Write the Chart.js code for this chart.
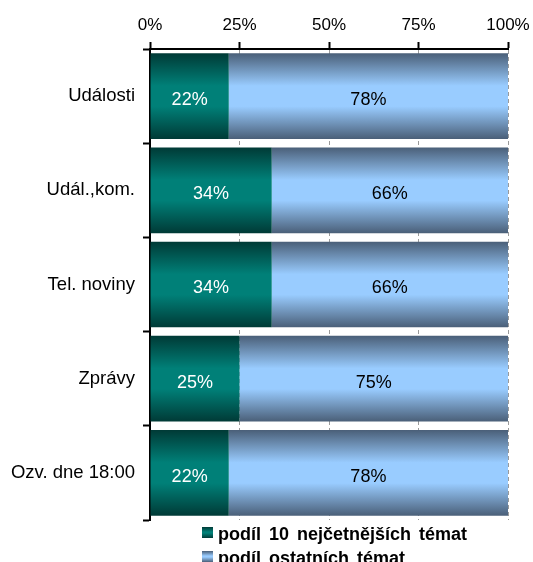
<!DOCTYPE html>
<html>
<head>
<meta charset="utf-8">
<script src="https://cdn.jsdelivr.net/npm/chart.js@4/dist/chart.umd.min.js"></script>
<style>
  html, body { margin: 0; padding: 0; background: #fff; }
  #wrap { position: relative; width: 533px; height: 562px; overflow: hidden; }
  #legend { position: absolute; left: 202px; top: 522px; font-family: "Liberation Sans", Arial, sans-serif; font-weight: bold; font-size: 18px; color: #000; line-height: 24px; word-spacing: 3px; }
  .item { display: flex; align-items: center; white-space: nowrap; }
  .box { width: 11px; height: 11px; margin-right: 5px; margin-top: -3px; }
</style>
</head>
<body>
<div id="wrap">
  <canvas id="c" width="533" height="562"></canvas>
  <div id="legend"></div>
</div>
<script>
const categories = ["Události", "Udál.,kom.", "Tel. noviny", "Zprávy", "Ozv. dne 18:00"];
const seriesNames = ["podíl 10 nejčetnějších témat", "podíl ostatních témat"];
const topShare = [22, 34, 34, 25, 22];
const otherShare = [78, 66, 66, 75, 78];
const tickLabels = ["0%", "25%", "50%", "75%", "100%"];

const FONT = '"Liberation Sans", Arial, sans-serif';
const palettes = [
  { edge: '#003a36', mid: '#008078' },
  { edge: '#4a5f78', mid: '#99ccff' }
];
const BAR_PCT = 0.91;

function barGradient(ctx, pal) {
  const chart = ctx.chart;
  const y = chart.scales && chart.scales.y;
  if (!y || ctx.dataIndex === undefined || !chart.chartArea) return pal.mid;
  const c = y.getPixelForValue(ctx.dataIndex);
  const half = (y.height / categories.length) * BAR_PCT / 2;
  const g = chart.ctx.createLinearGradient(0, c - half, 0, c + half);
  g.addColorStop(0, pal.edge);
  g.addColorStop(0.38, pal.mid);
  g.addColorStop(0.62, pal.mid);
  g.addColorStop(1, pal.edge);
  return g;
}

const labelPlugin = {
  id: 'valueLabels',
  afterDatasetsDraw(chart) {
    const ctx = chart.ctx;
    ctx.save();
    ctx.font = '18px ' + FONT;
    ctx.textAlign = 'center';
    ctx.textBaseline = 'middle';
    chart.data.datasets.forEach((ds, di) => {
      const meta = chart.getDatasetMeta(di);
      meta.data.forEach((el, i) => {
        const cx = (el.x + el.base) / 2;
        ctx.fillStyle = di === 0 ? '#ffffff' : '#000000';
        ctx.fillText(ds.data[i] + '%', cx, el.y + 4);
      });
    });
    ctx.restore();
  }
};

new Chart(document.getElementById('c'), {
  type: 'bar',
  data: {
    labels: categories,
    datasets: [
      { label: seriesNames[0], data: topShare, backgroundColor: c => barGradient(c, palettes[0]), borderWidth: 0, barPercentage: BAR_PCT, categoryPercentage: 1 },
      { label: seriesNames[1], data: otherShare, backgroundColor: c => barGradient(c, palettes[1]), borderWidth: 0, barPercentage: BAR_PCT, categoryPercentage: 1 }
    ]
  },
  options: {
    indexAxis: 'y',
    responsive: false,
    animation: false,
    layout: { padding: { left: 5, right: 25, top: 0, bottom: 42 } },
    plugins: { legend: { display: false }, tooltip: { enabled: false } },
    scales: {
      x: {
        position: 'top',
        stacked: true,
        min: 0, max: 100,
        afterFit: s => { s.height = 49; s.paddingLeft = 0; s.paddingRight = 0; },
        afterBuildTicks: s => { s.ticks = tickLabels.map((t, i) => ({ value: i * 25 })); },
        ticks: { callback: (v, i) => tickLabels[i], color: '#000', font: { family: FONT, size: 17 }, padding: 6, maxRotation: 0 },
        grid: { color: '#9a9a9a', lineWidth: 1, tickColor: '#000', tickLength: 7, tickWidth: 2 },
        border: { display: true, color: '#000', width: 2, dash: [4, 3] }
      },
      y: {
        stacked: true,
        afterFit: s => { s.width = 145; },
        ticks: { color: '#000', font: { family: FONT, size: 18.5 }, padding: 8 },
        grid: { display: true, drawOnChartArea: false, offset: true, tickColor: '#000', tickLength: 7, tickWidth: 2 },
        border: { display: true, color: '#000', width: 2 }
      }
    }
  },
  plugins: [labelPlugin]
});

// legend (HTML)
const legend = document.getElementById('legend');
seriesNames.forEach((name, i) => {
  const row = document.createElement('div');
  row.className = 'item';
  const box = document.createElement('span');
  box.className = 'box';
  box.style.background = `linear-gradient(${palettes[i].edge}, ${palettes[i].mid} 45%, ${palettes[i].mid} 55%, ${palettes[i].edge})`;
  const txt = document.createElement('span');
  txt.textContent = name;
  row.appendChild(box);
  row.appendChild(txt);
  legend.appendChild(row);
});
</script>
</body>
</html>
